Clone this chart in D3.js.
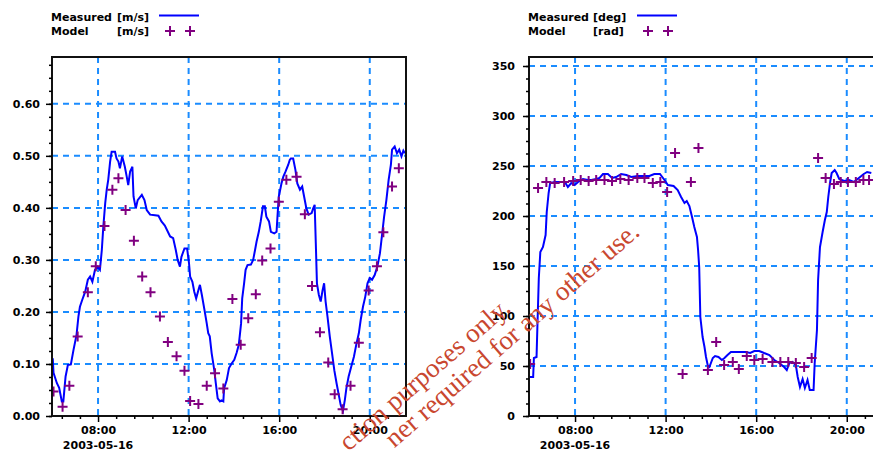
<!DOCTYPE html>
<html>
<head>
<meta charset="utf-8">
<script src="https://cdn.jsdelivr.net/npm/d3@7"></script>
<style>
  body { margin: 0; background: #fff; }
  svg text { font-family: "DejaVu Sans", sans-serif; font-weight: bold; font-size: 11px; fill: #000; }
</style>
</head>
<body>
<svg id="chart" width="873" height="456"></svg>
<script>
const day = "2003-05-16"

// current speed, measured [m/s]
const speedMeasured = [
  ["06:00", 0.111], ["06:02", 0.083], ["06:11", 0.063], ["06:17", 0.054], ["06:24", 0.028], ["06:28", 0.028],
  ["06:34", 0.076], ["06:40", 0.098], ["06:48", 0.099], ["06:55", 0.127], ["07:03", 0.156], ["07:08", 0.191],
  ["07:12", 0.210], ["07:18", 0.223], ["07:26", 0.239], ["07:33", 0.262], ["07:39", 0.268], ["07:45", 0.258],
  ["07:52", 0.281], ["07:59", 0.287], ["08:05", 0.281], ["08:10", 0.319], ["08:14", 0.364], ["08:19", 0.409],
  ["08:23", 0.435], ["08:27", 0.454], ["08:32", 0.489], ["08:36", 0.508], ["08:45", 0.508], ["08:49", 0.495],
  ["08:54", 0.489], ["08:58", 0.476], ["09:04", 0.499], ["09:11", 0.479], ["09:16", 0.460], ["09:20", 0.444],
  ["09:25", 0.470], ["09:31", 0.479], ["09:34", 0.422], ["09:40", 0.399], ["09:45", 0.415], ["09:56", 0.425],
  ["10:03", 0.415], ["10:09", 0.396], ["10:18", 0.387], ["10:31", 0.386], ["10:40", 0.385], ["10:48", 0.374],
  ["10:57", 0.366], ["11:11", 0.345], ["11:19", 0.342], ["11:26", 0.319], ["11:31", 0.300], ["11:37", 0.287],
  ["11:41", 0.306], ["11:49", 0.322], ["11:56", 0.322], ["12:01", 0.294], ["12:04", 0.268], ["12:10", 0.258],
  ["12:15", 0.239], ["12:20", 0.226], ["12:26", 0.242], ["12:30", 0.252], ["12:35", 0.233], ["12:42", 0.204],
  ["12:48", 0.178], ["12:52", 0.159], ["12:56", 0.153], ["13:01", 0.121], ["13:08", 0.088], ["13:12", 0.063],
  ["13:17", 0.034], ["13:23", 0.028], ["13:27", 0.030], ["13:32", 0.028], ["13:34", 0.053], ["13:41", 0.069],
  ["13:47", 0.092], ["13:54", 0.101], ["14:01", 0.108], ["14:07", 0.121], ["14:13", 0.137], ["14:19", 0.178],
  ["14:22", 0.226], ["14:27", 0.255], ["14:31", 0.281], ["14:36", 0.290], ["14:45", 0.291], ["14:51", 0.300],
  ["14:56", 0.319], ["15:00", 0.335], ["15:06", 0.354], ["15:11", 0.374], ["15:17", 0.403], ["15:22", 0.403],
  ["15:26", 0.383], ["15:33", 0.374], ["15:38", 0.354], ["15:47", 0.351], ["15:53", 0.354], ["15:56", 0.390],
  ["15:59", 0.422], ["16:06", 0.447], ["16:11", 0.460], ["16:17", 0.470], ["16:24", 0.483], ["16:28", 0.492],
  ["16:31", 0.495], ["16:37", 0.495], ["16:43", 0.473], ["16:48", 0.447], ["16:55", 0.435], ["17:01", 0.441],
  ["17:06", 0.422], ["17:12", 0.399], ["17:18", 0.387], ["17:26", 0.390], ["17:30", 0.399], ["17:34", 0.406],
  ["17:37", 0.332], ["17:40", 0.255], ["17:45", 0.233], ["17:50", 0.220], ["17:55", 0.242], ["17:59", 0.255],
  ["18:03", 0.220], ["18:08", 0.191], ["18:14", 0.153], ["18:20", 0.121], ["18:26", 0.088], ["18:32", 0.063],
  ["18:38", 0.040], ["18:43", 0.021], ["18:49", 0.010], ["18:54", 0.031], ["18:58", 0.053], ["19:04", 0.076],
  ["19:11", 0.095], ["19:18", 0.114], ["19:25", 0.140], ["19:31", 0.159], ["19:36", 0.185], ["19:42", 0.210],
  ["19:48", 0.229], ["19:54", 0.255], ["20:00", 0.265], ["20:06", 0.262], ["20:13", 0.271], ["20:20", 0.287],
  ["20:27", 0.313], ["20:33", 0.351], ["20:38", 0.383], ["20:44", 0.415], ["20:50", 0.454], ["20:56", 0.483],
  ["20:59", 0.512], ["21:06", 0.518], ["21:12", 0.505], ["21:18", 0.512], ["21:24", 0.499], ["21:29", 0.510],
  ["21:33", 0.505]
]

// current speed, model [m/s]
const speedModel = [
  ["06:02", 0.047], ["06:26", 0.018], ["06:44", 0.058], ["07:06", 0.153], ["07:33", 0.238], ["07:54", 0.288],
  ["08:17", 0.365], ["08:38", 0.435], ["08:54", 0.457], ["09:13", 0.396], ["09:35", 0.337], ["09:57", 0.268],
  ["10:19", 0.238], ["10:44", 0.191], ["11:05", 0.142], ["11:28", 0.115], ["11:49", 0.087], ["12:04", 0.029],
  ["12:26", 0.023], ["12:48", 0.058], ["13:10", 0.082], ["13:32", 0.053], ["13:56", 0.225], ["14:18", 0.137],
  ["14:38", 0.188], ["14:58", 0.234], ["15:15", 0.299], ["15:37", 0.322], ["15:59", 0.412], ["16:19", 0.454],
  ["16:46", 0.460], ["17:08", 0.388], ["17:27", 0.250], ["17:48", 0.161], ["18:10", 0.103], ["18:27", 0.042],
  ["18:48", 0.013], ["19:09", 0.058], ["19:31", 0.141], ["19:57", 0.241], ["20:19", 0.288], ["20:36", 0.353],
  ["20:59", 0.441], ["21:17", 0.476]
]

// current direction, measured [deg]
const dirMeasured = [
  ["06:00", 39], ["06:09", 39], ["06:11", 58], ["06:18", 59], ["06:20", 86], ["06:24", 138], ["06:28", 164],
  ["06:35", 169], ["06:42", 181], ["06:45", 204], ["06:50", 223], ["06:54", 233], ["07:06", 234], ["07:33", 234],
  ["07:41", 229], ["07:50", 233], ["07:59", 231], ["08:08", 234], ["08:21", 237], ["08:34", 236], ["08:43", 236],
  ["08:56", 237], ["09:05", 238], ["09:14", 242], ["09:27", 242], ["09:38", 238], ["09:49", 239], ["10:02", 242],
  ["10:16", 241], ["10:29", 239], ["10:46", 240], ["11:04", 240], ["11:17", 240], ["11:30", 242], ["11:45", 242],
  ["11:57", 236], ["12:06", 231], ["12:21", 230], ["12:32", 226], ["12:41", 219], ["12:50", 213], ["12:56", 215],
  ["13:03", 210], ["13:10", 199], ["13:16", 189], ["13:23", 179], ["13:26", 166], ["13:29", 149], ["13:32", 99],
  ["13:38", 79], ["13:43", 69], ["13:47", 59], ["13:52", 50], ["13:56", 49], ["14:05", 58], ["14:11", 60],
  ["14:20", 59], ["14:29", 56], ["14:36", 58], ["14:44", 61], ["14:53", 64], ["15:06", 64], ["15:20", 64],
  ["15:33", 64], ["15:44", 63], ["15:55", 65], ["16:08", 65], ["16:21", 63], ["16:35", 61], ["16:48", 56],
  ["17:01", 53], ["17:14", 49], ["17:21", 46], ["17:28", 53], ["17:36", 54], ["17:45", 51], ["17:50", 39],
  ["17:56", 29], ["18:03", 37], ["18:09", 28], ["18:16", 36], ["18:22", 26], ["18:32", 26], ["18:35", 53],
  ["18:41", 86], ["18:44", 136], ["18:49", 169], ["18:56", 184], ["19:02", 196], ["19:07", 204], ["19:11", 219],
  ["19:16", 234], ["19:20", 243], ["19:28", 246], ["19:33", 243], ["19:40", 237], ["19:53", 235], ["20:06", 236],
  ["20:19", 234], ["20:32", 238], ["20:45", 242], ["20:54", 244], ["21:05", 243]
]

// current direction, model
const dirModel = [
  ["06:01", 52], ["06:22", 228], ["06:44", 234], ["07:06", 233], ["07:31", 234], ["07:55", 235], ["08:15", 236],
  ["08:36", 235], ["08:56", 236], ["09:18", 236], ["09:38", 235], ["10:00", 237], ["10:22", 236], ["10:45", 238],
  ["11:04", 238], ["11:26", 233], ["11:46", 234], ["12:04", 224], ["12:25", 263], ["12:45", 42], ["13:07", 234],
  ["13:27", 268], ["13:52", 46], ["14:14", 74], ["14:35", 51], ["14:58", 54], ["15:14", 47], ["15:35", 60],
  ["15:55", 56], ["16:17", 57], ["16:43", 54], ["17:04", 54], ["17:25", 54], ["17:45", 53], ["18:07", 49],
  ["18:27", 58], ["18:44", 258], ["19:04", 238], ["19:26", 232], ["19:44", 234], ["20:03", 234], ["20:24", 234],
  ["20:44", 236], ["20:59", 236]
]

const timeRange = ["05:58", "21:36"]
const speedTicks = [0, 0.1, 0.2, 0.3, 0.4, 0.5, 0.6]
const dirTicks = [0, 50, 100, 150, 200, 250, 300, 350]
// the part of the watermark that shows in the picture
const watermark = ["ction purposes only.", "ner required for any other use."]

const gridColor = "#1a8cff"
const lineColor = "#0000ff"
const markColor = "#800080"

const svg = d3.select("#chart")
const parse = d3.timeParse("%Y-%m-%d %H:%M")
const toDate = t => parse(day + " " + t)

function plus(sel) {
  sel.attr("d", "M-5,0H5M0,-5V5")
    .attr("fill", "none")
    .attr("stroke", markColor)
    .attr("stroke-width", 2)
}

function drawPanel(p) {
  const left = p.left, top = 57, bottom = 416, right = p.left + 354

  const x = d3.scaleTime().domain(timeRange.map(toDate)).range([left, right])
  const y = d3.scaleLinear().domain([0, p.yMax]).range([bottom, top])

  const g = svg.append("g")

  g.append("clipPath").attr("id", p.id + "-clip")
    .append("rect").attr("x", left).attr("y", top).attr("width", right - left).attr("height", bottom - top)

  const xMajor = d3.timeHour.every(4).range(x.domain()[0], x.domain()[1])
  const base = toDate("08:00").getTime()
  const xMinor = d3.range(-3, 25).filter(i => i % 5 != 0)
    .map(i => new Date(base + i * 48 * 60000))
    .filter(d => d > x.domain()[0] && d < x.domain()[1])
  const yMinor = d3.range(0, p.yMax, p.yMinor)

  // grid
  const grid = g.append("g").attr("clip-path", `url(#${p.id}-clip)`)
    .attr("stroke", gridColor).attr("stroke-width", 2).attr("stroke-dasharray", "6,5")
  grid.selectAll(".h").data(p.yTicks.filter(v => v > 0)).enter().append("line")
    .attr("x1", left).attr("x2", right)
    .attr("y1", d => y(d)).attr("y2", d => y(d))
  grid.selectAll(".v").data(xMajor).enter().append("line")
    .attr("x1", d => x(d)).attr("x2", d => x(d))
    .attr("y1", top).attr("y2", bottom)

  const plot = g.append("g").attr("clip-path", `url(#${p.id}-clip)`)

  const line = d3.line()
    .x(d => x(toDate(d[0])))
    .y(d => y(d[1]))

  plot.append("path").datum(p.measured)
    .attr("d", line)
    .attr("fill", "none")
    .attr("stroke", lineColor)
    .attr("stroke-width", 2)

  plot.selectAll(".mark").data(p.model).enter().append("path")
    .attr("transform", d => `translate(${x(toDate(d[0]))},${y(d[1])})`)
    .call(plus)

  // frame
  g.append("rect")
    .attr("x", left).attr("y", top)
    .attr("width", right - left).attr("height", bottom - top)
    .attr("fill", "none").attr("stroke", "#111").attr("stroke-width", 2)

  // axes
  g.append("g").attr("transform", `translate(${left},0)`)
    .call(d3.axisLeft(y).tickValues(p.yTicks).tickSize(6).tickPadding(p.labelGap).tickFormat(p.yFormat))
  g.append("g").attr("transform", `translate(${left},0)`)
    .call(d3.axisLeft(y).tickValues(yMinor).tickSize(3).tickFormat(""))

  g.append("g").attr("transform", `translate(0,${bottom})`)
    .call(d3.axisBottom(x).tickValues(xMajor).tickSize(6).tickPadding(4).tickFormat(d3.timeFormat("%H:%M")))
  g.append("g").attr("transform", `translate(0,${bottom})`)
    .call(d3.axisBottom(x).tickValues(xMinor).tickSize(3).tickFormat(""))

  g.selectAll(".domain").remove()
  g.selectAll(".tick line").attr("stroke", "#000").attr("stroke-width", 1.5)
  g.selectAll(".tick text").attr("font-family", null).attr("font-size", null)

  g.append("text")
    .attr("x", x(xMajor[0])).attr("y", bottom + 33)
    .attr("text-anchor", "middle")
    .text(day)

  // legend
  const lg = g.append("g")
  lg.append("text").attr("x", left - 1).attr("y", 20.5).text("Measured")
  lg.append("text").attr("x", left + p.unitOffset).attr("y", 20.5).text(`[${p.units[0]}]`)
  lg.append("text").attr("x", left - 1).attr("y", 35).text("Model")
  lg.append("text").attr("x", left + p.unitOffset).attr("y", 35).text(`[${p.units[1]}]`)
  lg.append("line")
    .attr("x1", left + p.keyOffset).attr("x2", left + p.keyOffset + 40)
    .attr("y1", 15.5).attr("y2", 15.5)
    .attr("stroke", lineColor).attr("stroke-width", 2)
  lg.selectAll(".key").data([11, 31]).enter().append("path")
    .attr("transform", d => `translate(${left + p.keyOffset + d},31)`)
    .call(plus)
}

drawPanel({
  id: "speed", left: 52, yMax: 0.69, yTicks: speedTicks, yMinor: 0.025,
  yFormat: d3.format(".2f"), labelGap: 6,
  measured: speedMeasured, model: speedModel,
  units: ["m/s", "m/s"], unitOffset: 65, keyOffset: 107
})

drawPanel({
  id: "dir", left: 529, yMax: 359, yTicks: dirTicks, yMinor: 12.5,
  yFormat: d3.format("d"), labelGap: 8,
  measured: dirMeasured, model: dirModel,
  units: ["deg", "rad"], unitOffset: 64, keyOffset: 108
})

// watermark, drawn across the middle
const angle = -41
const wmEnds = [[512, 310], [641, 234]]
watermark.forEach((t, i) => {
  svg.append("text")
    .attr("x", wmEnds[i][0]).attr("y", wmEnds[i][1])
    .attr("transform", `rotate(${angle},${wmEnds[i][0]},${wmEnds[i][1]})`)
    .attr("text-anchor", "end")
    .style("font-family", "'Liberation Serif', 'DejaVu Serif', serif")
    .style("font-weight", "normal")
    .style("font-size", "27px")
    .style("fill", "#c9472f")
    .text(t)
})
</script>
</body>
</html>
